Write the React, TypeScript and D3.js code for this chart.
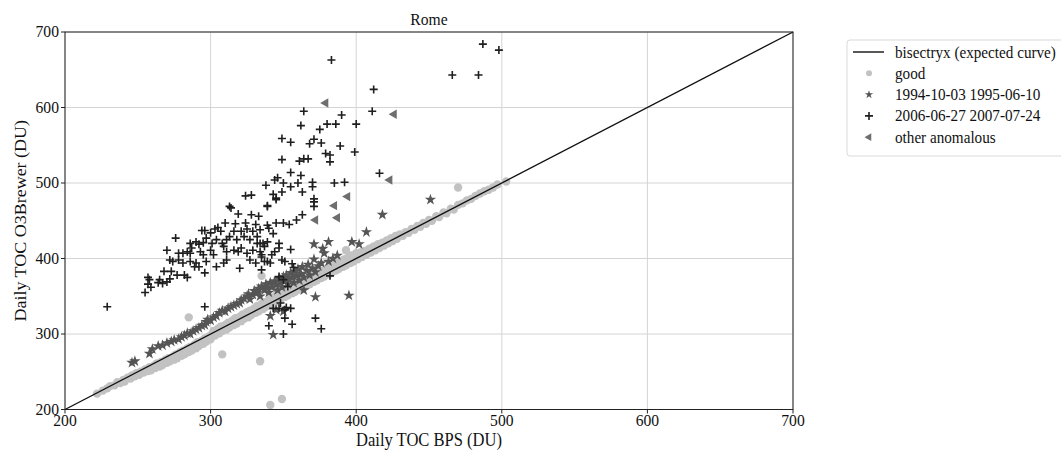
import * as d3 from 'd3'

// Daily TOC, BPS (x) vs O3Brewer (y), Rome
const AXIS_TICKS = [200, 300, 400, 500, 600, 700]
const TITLE = 'Rome'

const GOOD: [number, number][] = [
  [222,221],[226,225],[229,228],[231,231],[234,232],[236,236],[238,235],[240,239],[241,237],[243,242],
  [245,241],[246,245],[248,244],[249,248],[251,246],[252,250],[254,249],[255,253],[257,251],[258,256],
  [259,252],[261,258],[262,255],[263,261],[265,257],[266,263],[267,259],[269,266],[270,262],[271,268],
  [272,264],[274,270],[275,266],[276,273],[277,268],[279,276],[280,271],[281,278],[282,273],[284,281],
  [285,276],[286,283],[287,278],[289,286],[290,281],[291,289],[292,284],[294,291],[295,287],[296,294],
  [297,290],[299,297],[300,293],
  [301,300],[302,304],[303,298],[305,307],[306,301],[307,310],[308,304],[310,312],[311,306],[312,315],
  [313,309],[315,318],[316,312],[317,321],[318,314],[320,323],[321,317],[322,326],[323,320],[325,329],
  [326,322],[327,331],[328,325],[330,334],[331,328],[332,337],[333,330],[335,340],[336,333],[337,342],
  [338,336],[340,345],[341,338],[342,348],[343,341],[345,351],[346,343],[347,354],[348,346],[350,357],
  [351,349],[352,359],[353,351],[355,362],[356,354],[357,364],[358,356],[360,367],[361,359],[362,369],
  [363,361],[365,372],[366,364],[367,374],[368,366],[370,377],[371,369],[372,379],[373,371],[375,382],
  [376,374],[377,384],[378,376],[380,387],[381,379],[382,389],[383,381],[385,392],[386,384],[387,394],
  [388,386],[390,397],[391,389],[392,399],[393,391],[395,402],[396,394],[397,404],[398,396],[400,407],
  [401,399],[403,408],[404,402],[406,410],[407,405],[409,413],[410,408],[412,416],[413,411],[415,419],
  [416,414],[418,421],[419,417],[421,424],[422,420],[424,427],[425,423],[427,430],[428,426],[430,432],
  [432,430],[434,435],[436,434],[438,439],[440,438],[442,443],[444,442],[446,447],[448,446],[450,451],
  [452,450],[455,456],[457,455],[460,461],[462,460],[465,466],[467,465],[470,471],[473,473],[476,477],
  [479,479],[482,483],[485,486],[488,489],[491,491],[494,494],[497,498],[503,502],
  [285,322],[308,273],[334,264],[341,206],[349,214],[393,411],[335,377],[470,494],
]

const PERIOD_1994: [number, number][] = [
  [246,262],[248,264],[258,274],[260,280],[264,284],[267,285],[270,288],[273,290],[275,292],[278,293],
  [280,296],[282,298],[284,301],[286,300],[288,304],[290,306],[292,308],[294,311],[296,312],[297,316],
  [298,319],[300,318],[302,322],[304,324],[306,328],[308,331],[310,330],[312,334],[314,336],[316,338],
  [318,340],[320,341],[321,345],[323,347],[325,350],[326,353],[327,346],[329,352],[330,357],[332,355],
  [333,360],[334,350],[335,363],[337,358],[338,366],[339,361],[340,355],[341,368],[342,362],[344,370],
  [345,365],[346,358],[347,373],[348,368],[349,362],[350,376],[351,370],[352,378],[353,366],[354,373],
  [355,381],[356,375],[357,368],[358,383],[359,377],[360,386],[361,371],[362,380],[363,389],[364,375],
  [366,384],[367,392],[368,378],[370,387],[371,399],[372,382],[374,390],[376,394],[377,413],[378,407],
  [381,396],[381,422],[384,400],[387,404],[371,419],[397,422],[402,419],[407,435],[418,458],[451,478],
  [395,351],[372,349],[364,358],[341,324],[343,299],[345,332],[350,330],
]

const PERIOD_2006: [number, number][] = [
  [229,336],
  [383,663],[412,624],[411,595],[364,595],[390,590],[362,576],[380,578],[386,578],[400,578],[375,571],
  [349,559],[355,554],[371,558],[368,552],[376,553],[389,549],[399,541],[379,539],[382,537],[382,528],
  [349,531],[361,529],[364,532],[367,532],[416,513],[355,514],[362,510],[346,507],[344,504],[338,497],
  [350,500],[360,500],[370,501],[370,495],[385,500],[392,501],[355,495],[349,488],[343,485],[363,488],
  [328,484],[345,480],[371,479],
  [487,684],[498,676],[466,643],[484,643],
  [324,483],[313,469],[314,467],[319,459],[328,458],[333,456],[339,469],[310,447],[317,446],[324,447],
  [331,445],[305,441],[307,436],[303,439],[294,437],[296,437],[300,434],[316,436],[321,436],[325,439],
  [329,436],[334,438],[313,429],[318,425],[323,429],[327,425],[332,429],[304,425],[308,420],[311,425],
  [297,427],[301,420],[295,421],[276,427],[286,420],[290,422],[292,419],[287,414],[284,409],[281,407],
  [278,407],[286,407],[293,409],[295,405],[300,411],[302,405],[309,416],[311,409],[316,411],[319,409],
  [321,414],[325,407],[329,411],[334,409],[337,416],[332,420],[336,420],[270,411],[272,398],[274,396],
  [278,398],[281,394],[286,396],[290,394],[292,389],[289,389],[297,396],[296,381],[304,389],[309,394],
  [311,398],[320,387],[327,398],[331,394],[335,402],[339,396],[268,383],[273,383],[277,378],[282,378],
  [284,375],[257,375],[258,372],[257,366],[259,362],[265,372],[267,367],[270,369],[272,373],[264,368],
  [255,355],[296,336],
  [339,470],[345,478],[371,475],[371,469],[363,458],[359,451],[345,447],[350,447],[354,445],[339,444],
  [340,440],[343,433],[334,420],[339,422],[347,420],[347,414],[344,409],[342,405],[355,412],[335,405],
  [337,396],[341,394],[349,398],[351,396],[356,393],[357,388],[335,385],[347,376],[350,372],[353,363],
  [348,341],[347,334],[351,332],[355,334],[351,321],[343,334],[372,321],[382,377],
  [352,335],[356,313],[376,307],[340,311],[350,300],
]

const OTHER_ANOMALOUS: [number, number][] = [
  [379,606],[426,591],[423,504],[394,482],[385,470],[372,451],[387,454],
]

const LEGEND = [
  'bisectryx (expected curve)',
  'good',
  '1994-10-03 1995-06-10',
  '2006-06-27 2007-07-24',
  'other anomalous',
]

const FONT = 'Liberation Serif'
const SQX = 0.92 // text in the reference is slightly condensed
const W = 1061
const H = 451
const M = { left: 65, right: 793, top: 32, bottom: 409.5 }

const x = d3.scaleLinear().domain([200, 700]).range([M.left, M.right])
const y = d3.scaleLinear().domain([200, 700]).range([M.bottom, M.top])

const starPath = d3.symbol(d3.symbolStar, 40)()
const trianglePath = d3.symbol(d3.symbolTriangle, 38)()
const PLUS = 4

function Plus({ cx, cy }: { cx: number; cy: number }) {
  return (
    <path
      d={`M${cx - PLUS},${cy}H${cx + PLUS}M${cx},${cy - PLUS}V${cy + PLUS}`}
      stroke="#1f1f1f"
      strokeWidth={1.6}
    />
  )
}

function Label({ tx, ty, size, anchor = 'start', children }: { tx: number; ty: number; size: number; anchor?: string; children: any }) {
  return (
    <text
      transform={`translate(${tx},${ty}) scale(${SQX},1)`}
      textAnchor={anchor}
      fontSize={size}
      fontFamily={FONT}
      fill="#111"
    >
      {children}
    </text>
  )
}

export default function App() {
  document.body.style.margin = '0'
  const lineGen = d3.line<number>().x(d => x(d)).y(d => y(d))
  const legendX = 847
  const legendY = 40
  const rowH = 21.3

  return (
    <svg width={W} height={H} style={{ display: 'block', background: '#fff' }} fontFamily={FONT}>
      {/* grid */}
      {AXIS_TICKS.map(t => (
        <g key={'g' + t}>
          <line x1={x(t)} x2={x(t)} y1={M.top} y2={M.bottom} stroke="#d4d4d4" strokeWidth={1} />
          <line x1={M.left} x2={M.right} y1={y(t)} y2={y(t)} stroke="#d4d4d4" strokeWidth={1} />
        </g>
      ))}

      {/* good */}
      {GOOD.map((d, i) => (
        <circle key={'c' + i} cx={x(d[0])} cy={y(d[1])} r={4.2} fill="#c2c2c2" />
      ))}

      {/* bisector */}
      <path d={lineGen([200, 700]) ?? ''} stroke="#111" strokeWidth={1.4} fill="none" />

      {/* 1994 period */}
      {PERIOD_1994.map((d, i) => (
        <path key={'s' + i} d={starPath ?? ''} transform={`translate(${x(d[0])},${y(d[1])})`} fill="#555" />
      ))}

      {/* 2006 period */}
      {PERIOD_2006.map((d, i) => (
        <Plus key={'p' + i} cx={x(d[0])} cy={y(d[1])} />
      ))}

      {/* other anomalous */}
      {OTHER_ANOMALOUS.map((d, i) => (
        <path
          key={'t' + i}
          d={trianglePath ?? ''}
          transform={`translate(${x(d[0])},${y(d[1])}) rotate(-90)`}
          fill="#6e6e6e"
        />
      ))}

      {/* frame */}
      <rect x={M.left} y={M.top} width={M.right - M.left} height={M.bottom - M.top} fill="none" stroke="#222" strokeWidth={1} />

      {/* ticks */}
      {AXIS_TICKS.map(t => (
        <g key={'t' + t}>
          <line x1={x(t)} x2={x(t)} y1={M.bottom} y2={M.bottom + 4} stroke="#222" />
          <Label tx={x(t)} ty={M.bottom + 16} size={17} anchor="middle">{t}</Label>
          <line x1={M.left - 4} x2={M.left} y1={y(t)} y2={y(t)} stroke="#222" />
          <Label tx={M.left - 6} ty={y(t) + 5} size={17} anchor="end">{t}</Label>
        </g>
      ))}

      <Label tx={(M.left + M.right) / 2} ty={25} size={17} anchor="middle">{TITLE}</Label>
      <Label tx={(M.left + M.right) / 2} ty={446} size={18} anchor="middle">Daily TOC BPS (DU)</Label>
      <text
        transform={`translate(26,${(M.top + M.bottom) / 2}) rotate(-90) scale(1,${SQX})`}
        textAnchor="middle"
        fontSize={18}
        fill="#111"
        fontFamily={FONT}
      >
        Daily TOC O3Brewer (DU)
      </text>

      {/* legend */}
      <rect x={legendX} y={legendY} width={240} height={116} rx={3} fill="#fff" stroke="#d9d9d9" />
      {LEGEND.map((label, i) => {
        const cy = legendY + 12 + i * rowH
        const mx = 869
        return (
          <g key={label}>
            {i === 0 && <line x1={853} x2={884} y1={cy} y2={cy} stroke="#111" strokeWidth={1.4} />}
            {i === 1 && <circle cx={mx} cy={cy} r={3} fill="#c2c2c2" />}
            {i === 2 && <path d={d3.symbol(d3.symbolStar, 22)() ?? ''} transform={`translate(${mx},${cy})`} fill="#555" />}
            {i === 3 && <Plus cx={mx} cy={cy} />}
            {i === 4 && (
              <path d={d3.symbol(d3.symbolTriangle, 26)() ?? ''} transform={`translate(${mx},${cy}) rotate(-90)`} fill="#6e6e6e" />
            )}
            <Label tx={895} ty={cy + 5.5} size={16.5}>{label}</Label>
          </g>
        )
      })}
    </svg>
  )
}
